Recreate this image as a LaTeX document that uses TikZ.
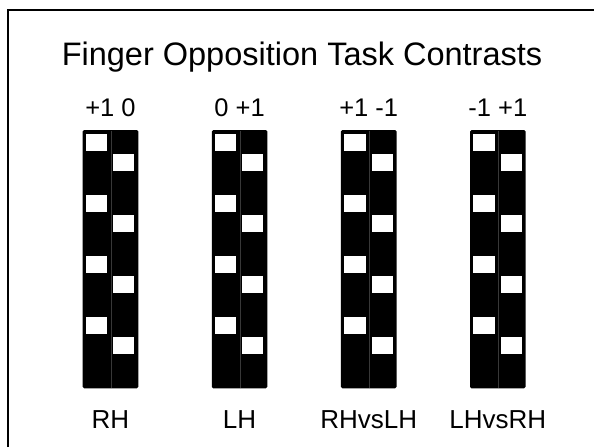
\documentclass[tikz,border=0pt]{standalone}
\usepackage{fontspec}
\setmainfont{Liberation Sans}
\begin{document}
\begin{tikzpicture}[x=1pt,y=-1pt,
  frame/.style={line width=2pt},
  colbox/.style={fill=black, rounded corners=1.5pt},
  sq/.style={fill=white},
  divider/.style={draw=black!78, line width=0.4pt},
  title/.style={font=\fontsize{32.5}{33}\selectfont, anchor=base, inner sep=0pt},
  weights/.style={font=\fontsize{25.5}{26}\selectfont, anchor=base, inner sep=0pt},
  cname/.style={font=\fontsize{26}{27}\selectfont, anchor=base, inner sep=0pt}]
\useasboundingbox (0,0) rectangle (594,447);
\draw[frame] (8.3,447) -- (8.3,10.3) -- (594,10.3);
\node[title] (title) at (302,65) {Finger Opposition Task Contrasts};
\foreach \i/\w/\n in {0/{+1 0}/RH, 1/{0 +1}/LH, 2/{+1 -1}/RHvsLH, 3/{-1 +1}/LHvsRH} {
  \pgfmathsetmacro\xl{82.7+129.1*\i}
  \fill[colbox] (\xl,130) rectangle ++(55.6,258.3);
  \draw[divider] (\xl+28,130.5) -- ++(0,257.3);
  \foreach \k in {0,...,3} {
     \fill[sq] (\xl+3,134+61.1*\k) rectangle ++(21.6,17);
     \fill[sq] (\xl+30.6,154+61.1*\k) rectangle ++(21,17);
  }
  \node[weights] (w\i) at (\xl+27.8,116.7) {\w};
  \node[cname] (n\i) at (\xl+27.8,428.3) {\n};
}
\end{tikzpicture}
\end{document}
